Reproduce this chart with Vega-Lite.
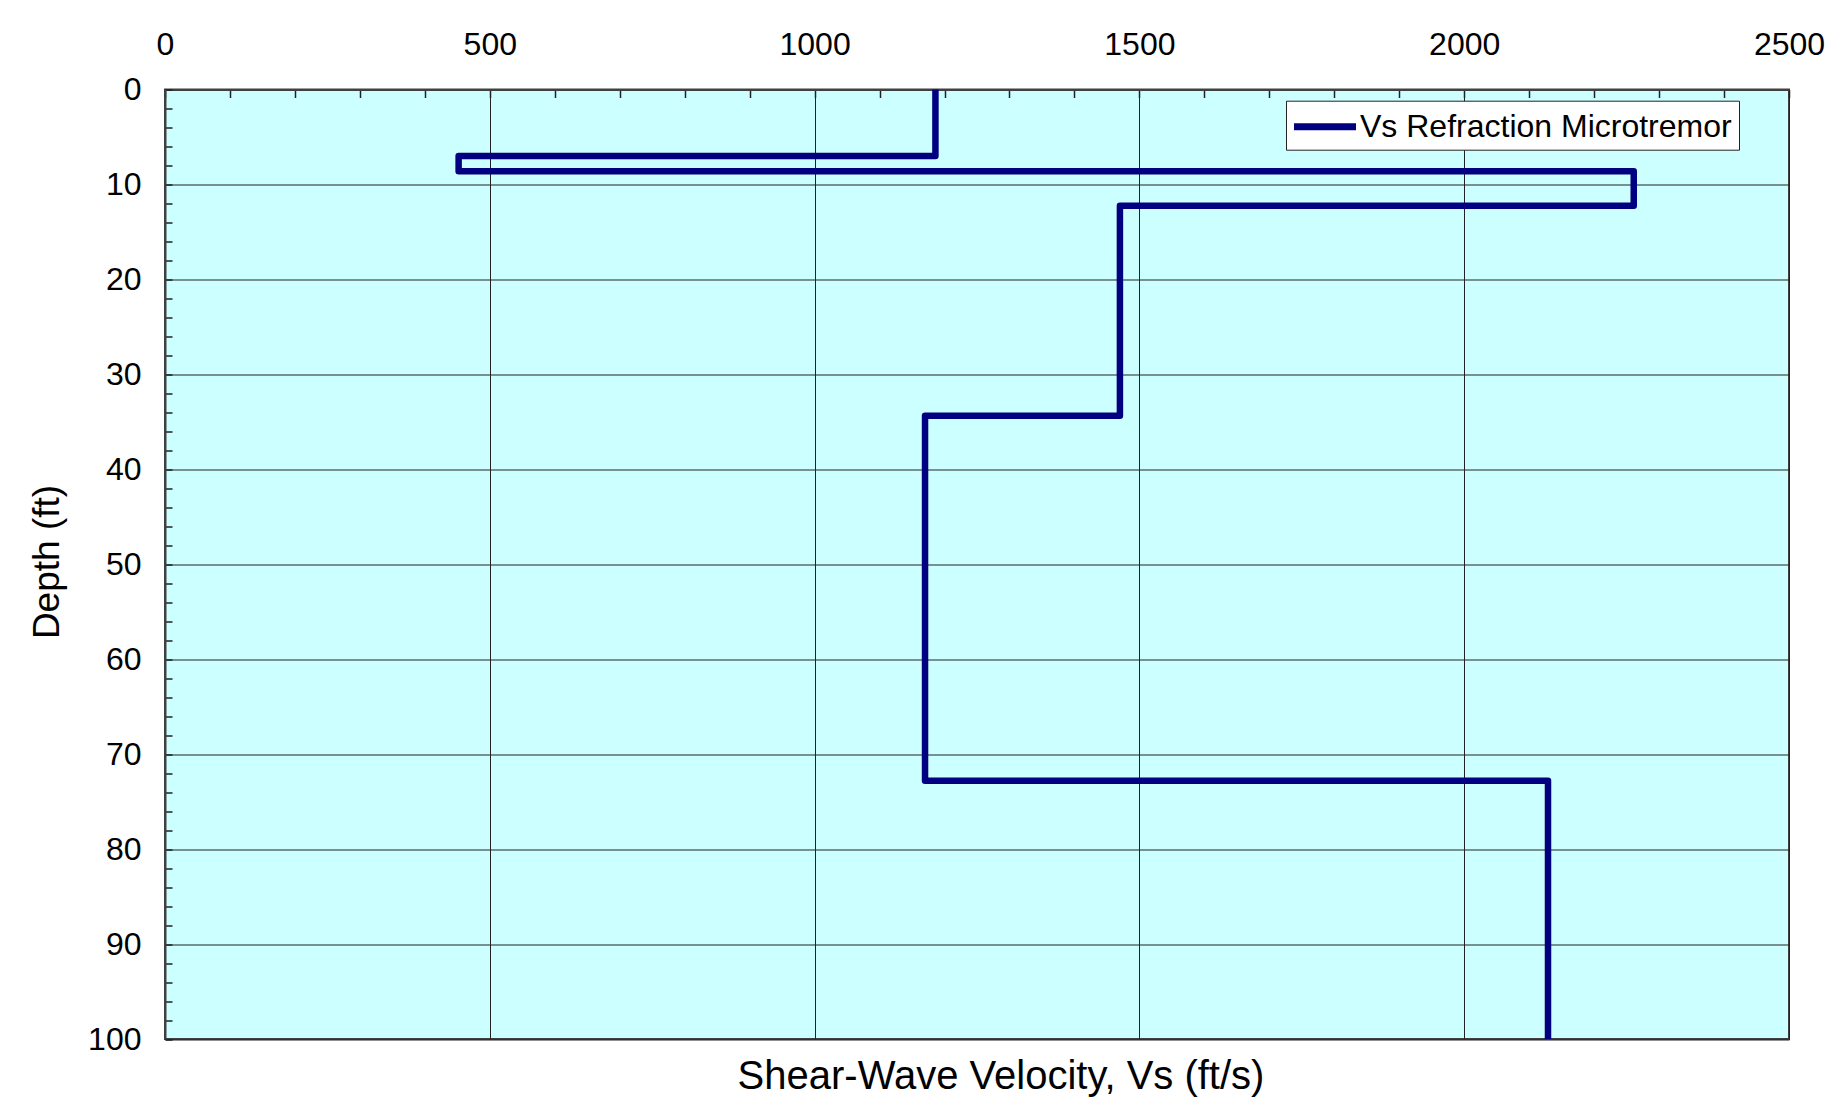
{
  "$schema": "https://vega.github.io/schema/vega-lite/v6.json",
  "autosize": "none",
  "width": 1624,
  "height": 949.5,
  "padding": {"left": 165, "top": 89.5, "right": 58, "bottom": 79},
  "background": "white",
  "title": {
    "text": "Shear-Wave Velocity, Vs (ft/s)",
    "orient": "bottom",
    "frame": "group",
    "anchor": "middle",
    "fontSize": 40,
    "font": "Liberation Sans",
    "fontWeight": "normal",
    "baseline": "alphabetic",
    "offset": 34,
    "dx": 24,
    "color": "black"
  },
  "config": {
    "view": {"fill": "#CCFFFF", "stroke": "#404040", "strokeWidth": 2},
    "font": "Liberation Sans"
  },
  "data": {
    "values": [
      {"i": 0, "series": "Vs Refraction Microtremor", "vs": 1186, "depth": 0},
      {"i": 1, "series": "Vs Refraction Microtremor", "vs": 1186, "depth": 7.0},
      {"i": 2, "series": "Vs Refraction Microtremor", "vs": 452, "depth": 7.0},
      {"i": 3, "series": "Vs Refraction Microtremor", "vs": 452, "depth": 8.6},
      {"i": 4, "series": "Vs Refraction Microtremor", "vs": 2261, "depth": 8.6},
      {"i": 5, "series": "Vs Refraction Microtremor", "vs": 2261, "depth": 12.25},
      {"i": 6, "series": "Vs Refraction Microtremor", "vs": 1470, "depth": 12.25},
      {"i": 7, "series": "Vs Refraction Microtremor", "vs": 1470, "depth": 34.35},
      {"i": 8, "series": "Vs Refraction Microtremor", "vs": 1170, "depth": 34.35},
      {"i": 9, "series": "Vs Refraction Microtremor", "vs": 1170, "depth": 72.8},
      {"i": 10, "series": "Vs Refraction Microtremor", "vs": 2129, "depth": 72.8},
      {"i": 11, "series": "Vs Refraction Microtremor", "vs": 2129, "depth": 100}
    ]
  },
  "mark": {"type": "line", "strokeWidth": 6.5, "strokeJoin": "round", "strokeCap": "round", "clip": true},
  "encoding": {
    "x": {
      "field": "vs",
      "type": "quantitative",
      "scale": {"domain": [0, 2500], "nice": false, "zero": false},
      "axis": {
        "orient": "top",
        "title": null,
        "format": "d",
        "values": [0,100,200,300,400,500,600,700,800,900,1000,1100,1200,1300,1400,1500,1600,1700,1800,1900,2000,2100,2200,2300,2400,2500],
        "labelExpr": "datum.value % 500 === 0 ? datum.label : ''",
        "labelOverlap": false,
        "labelFlush": false,
        "labelFontSize": 32,
        "labelFont": "Liberation Sans",
        "labelColor": "black",
        "labelBaseline": "alphabetic",
        "labelPadding": 43.5,
        "tickSize": -8,
        "tickColor": "#222",
        "tickWidth": 1.5,
        "domainColor": "#404040",
        "domainWidth": 2,
        "gridColor": "#222",
        "gridWidth": 1,
        "gridOpacity": {"condition": {"test": "datum.value % 500 === 0", "value": 1}, "value": 0}
      }
    },
    "y": {
      "field": "depth",
      "type": "quantitative",
      "scale": {"domain": [0, 100], "reverse": true, "nice": false, "zero": false},
      "axis": {
        "orient": "left",
        "title": "Depth (ft)",
        "titleFontSize": 37,
        "titleFont": "Liberation Sans",
        "titleFontWeight": "normal",
        "titleColor": "black",
        "titleAngle": -90,
        "titleBaseline": "alphabetic",
        "titleAlign": "center",
        "titleX": -107,
        "titleY": 472,
        "format": "d",
        "values": [0,2,4,6,8,10,12,14,16,18,20,22,24,26,28,30,32,34,36,38,40,42,44,46,48,50,52,54,56,58,60,62,64,66,68,70,72,74,76,78,80,82,84,86,88,90,92,94,96,98,100],
        "labelExpr": "datum.value % 10 === 0 ? datum.label : ''",
        "labelOverlap": false,
        "labelFlush": false,
        "labelFontSize": 32,
        "labelFont": "Liberation Sans",
        "labelColor": "black",
        "labelPadding": 31,
        "tickSize": -7,
        "tickColor": "#222",
        "tickWidth": 1.5,
        "domainColor": "#404040",
        "domainWidth": 2,
        "gridColor": "#222",
        "gridWidth": 1,
        "gridOpacity": {"condition": {"test": "datum.value % 10 === 0", "value": 1}, "value": 0}
      }
    },
    "color": {
      "field": "series",
      "type": "nominal",
      "scale": {"range": ["#000080"]},
      "legend": {
        "title": null,
        "orient": "none",
        "legendX": 1121,
        "legendY": 11.2,
        "symbolType": "M-2,0H2",
        "symbolSize": 961,
        "symbolOffset": 13,
        "symbolStrokeWidth": 7,
        "labelFontSize": 32,
        "labelFont": "Liberation Sans",
        "labelColor": "black",
        "labelOffset": 16,
        "fillColor": "white",
        "strokeColor": "#222",
        "padding": 7,
        "labelLimit": 600
      }
    },
    "order": {"field": "i", "type": "quantitative"}
  }
}
